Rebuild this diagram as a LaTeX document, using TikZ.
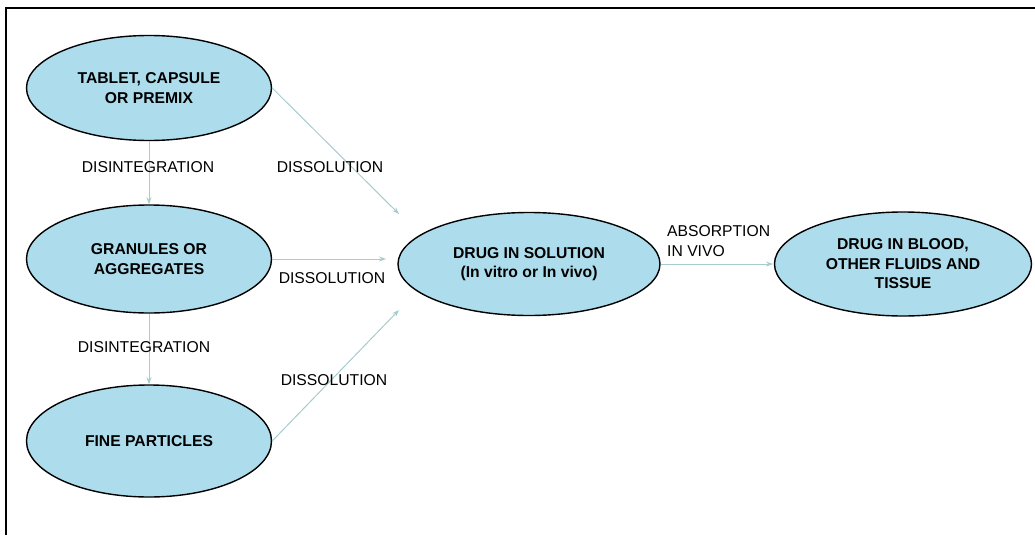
\documentclass[tikz,border=0pt]{standalone}
\usepackage{fontspec}
\setmainfont{Liberation Sans}
\usetikzlibrary{shapes.geometric,arrows.meta}
\definecolor{cellblue}{HTML}{ADDDEC}
\definecolor{flowgray}{HTML}{A6CDCD}
\tikzset{
    phase/.style={ellipse, draw=black, line width=1.4pt, fill=cellblue,
        inner sep=0pt, align=center, font=\fontsize{15.7}{19.5}\selectfont\bfseries},
    flow/.style={draw=flowgray, line width=1pt, -{Stealth[length=7pt,width=5pt]}},
    tag/.style={font=\fontsize{15.7}{19.5}\selectfont, inner sep=0pt}
}
\begin{document}
\begin{tikzpicture}[x=1pt,y=-1pt]
    \useasboundingbox (0,0) rectangle (1035,535);
    \draw[line width=2pt] (6,535) -- (6,8) -- (1035,8);

    \node[phase, minimum width=245pt, minimum height=105pt] (T) at (149,88)
        {TABLET, CAPSULE\\OR PREMIX};
    \node[phase, minimum width=245pt, minimum height=108pt] (G) at (149,259)
        {GRANULES OR\\AGGREGATES};
    \node[phase, minimum width=245pt, minimum height=112pt] (F) at (149,441)
        {FINE PARTICLES};
    \node[phase, minimum width=262pt, minimum height=103pt] (S) at (529,264)
        {DRUG IN SOLUTION\\(In vitro or In vivo)};
    \node[phase, minimum width=257pt, minimum height=104pt] (B) at (903,264)
        {DRUG IN BLOOD,\\OTHER FLUIDS AND\\TISSUE};

    \coordinate (s1) at (399,214);
    \coordinate (s2) at (386,259);
    \coordinate (s3) at (399,310);
    \coordinate (b1) at (773,264);

    \draw[flow] (T.south) -- (G.north);
    \draw[flow] (G.south) -- (F.north);
    \draw[flow] (T.east) -- (s1);
    \draw[flow] (G.east) -- (s2);
    \draw[flow] (F.east) -- (s3);
    \draw[flow] (S.east) -- (b1);

    \node[tag] (d1) at (148,167) {DISINTEGRATION};
    \node[tag] (d2) at (144,347) {DISINTEGRATION};
    \node[tag] (l1) at (330,167) {DISSOLUTION};
    \node[tag] (l2) at (332,278) {DISSOLUTION};
    \node[tag] (l3) at (334,380) {DISSOLUTION};
    \node[tag, anchor=west, align=left] (ab) at (667,241) {ABSORPTION\\IN VIVO};
\end{tikzpicture}
\end{document}
